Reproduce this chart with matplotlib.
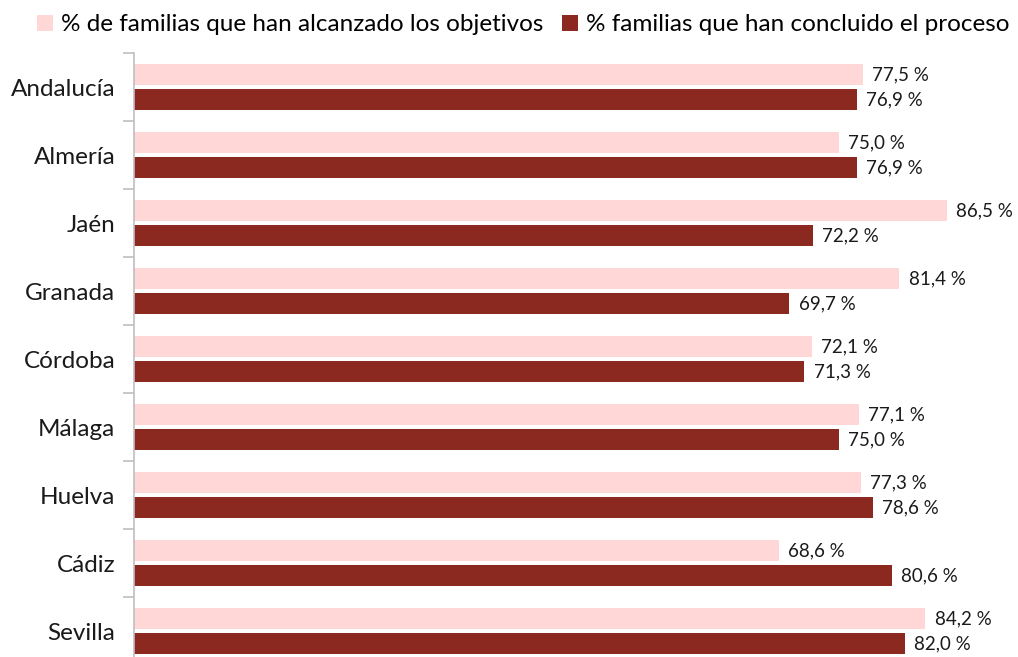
import matplotlib.pyplot as plt
import numpy as np

# datos
provincias = ["Andalucía", "Almería", "Jaén", "Granada", "Córdoba",
              "Málaga", "Huelva", "Cádiz", "Sevilla"]
objetivos = [77.5, 75.0, 86.5, 81.4, 72.1, 77.1, 77.3, 68.6, 84.2]
concluido = [76.9, 76.9, 72.2, 69.7, 71.3, 75.0, 78.6, 80.6, 82.0]

serie1 = "% de familias que han alcanzado los objetivos"
serie2 = "% familias que han concluido el proceso"

col1 = "#FFD7D7"
col2 = "#8B2820"

plt.rcParams['font.family'] = ['Lato', 'DejaVu Sans']

fig = plt.figure(figsize=(10.18, 6.57), dpi=100)
ax = fig.add_axes([134/1018, (657-665)/657, (1018-134)/1018, 612/657])

y = np.arange(len(provincias))
h = 0.32
off = 0.185
b1 = ax.barh(y - off, objetivos, height=h, color=col1, label=serie1)
b2 = ax.barh(y + off, concluido, height=h, color=col2, label=serie2)

for barras, vals in ((b1, objetivos), (b2, concluido)):
    for b, v in zip(barras, vals):
        txt = f"{v:.1f} %".replace(".", ",")
        ax.text(v + 1.0, b.get_y() + b.get_height()/2, txt,
                va='center', ha='left', fontsize=13.5, color='#1a1a1a')

ax.set_xlim(0, (1018-134)/9.4)
ax.set_ylim(len(provincias) - 0.5, -0.5)

ax.set_yticks(y)
ax.set_yticklabels(provincias, fontsize=17.5, color='#1a1a1a')
ax.set_yticks(np.arange(-0.5, len(provincias)), minor=True)
ax.tick_params(axis='y', which='major', length=0, pad=13.5)
ax.tick_params(axis='y', which='minor', length=8, color='#bfbfbf', width=1.2)
ax.set_xticks([])

for s in ['top', 'right', 'bottom']:
    ax.spines[s].set_visible(False)
ax.spines['left'].set_color('#bfbfbf')
ax.spines['left'].set_linewidth(1.2)

fig.legend(handles=[b1, b2], loc='center', bbox_to_anchor=(0.514, 0.962),
           ncol=2, frameon=False, fontsize=17.5, handlelength=0.66, handleheight=0.66,
           handletextpad=0.33, columnspacing=0.74, borderaxespad=0, borderpad=0)

fig.savefig("out.png", dpi=100)
